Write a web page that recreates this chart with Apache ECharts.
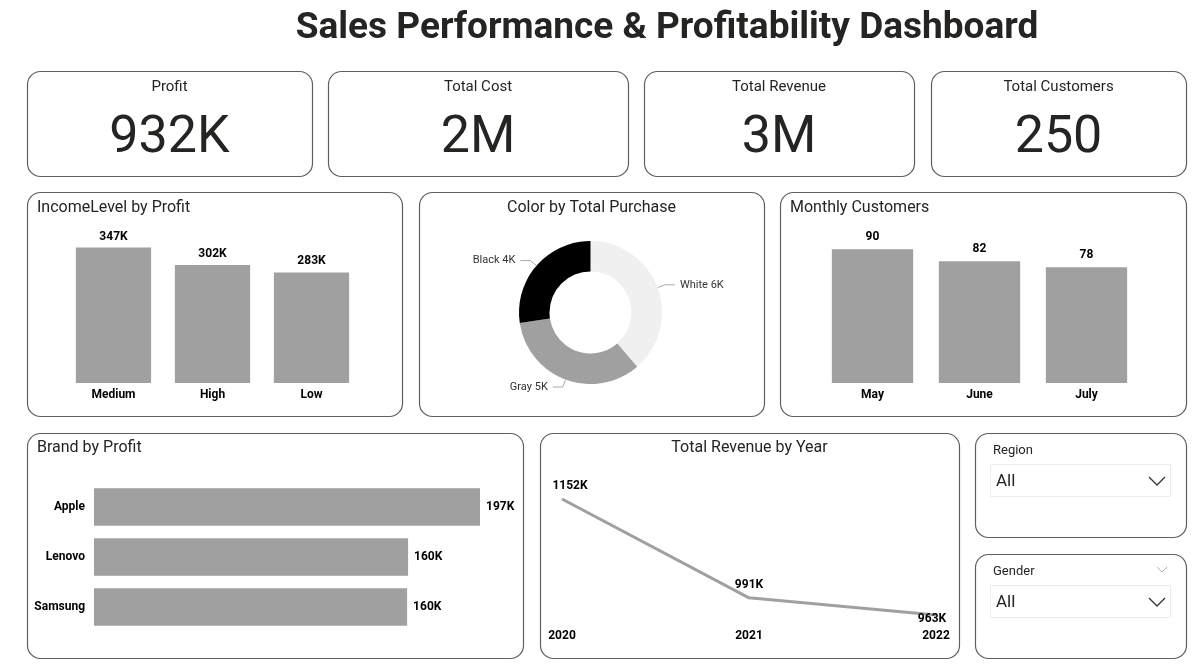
<!DOCTYPE html>
<html>
<head>
<meta charset="utf-8">
<title>Sales Performance & Profitability Dashboard</title>
<script src="https://cdn.jsdelivr.net/npm/echarts@6/dist/echarts.min.js"></script>
<style>
    html, body { margin: 0; padding: 0; background: #fff; }
    #main { width: 1199px; height: 666px; }
</style>
</head>
<body>
<div id="main"></div>
<script>
/*************************** data ***************************/
var kpiNames = ['Profit', 'Total Cost', 'Total Revenue', 'Total Customers'];
var kpiValues = ['932K', '2M', '3M', '250'];

var incomeLevels = ['Medium', 'High', 'Low'];
var incomeProfit = [347, 302, 283];          // K

var colorNames = ['White', 'Gray', 'Black'];
var colorPurchase = [5.8, 5.1, 4.1];         // K

var months = ['May', 'June', 'July'];
var monthlyCustomers = [90, 82, 78];

var brands = ['Apple', 'Lenovo', 'Samsung'];
var brandProfit = [197, 160.3, 159.8];       // K

var years = ['2020', '2021', '2022'];
var yearRevenue = [1152, 991, 963];          // K

var slicerNames = ['Region', 'Gender'];

/*************************** main ***************************/
function main() {
    var myChart = echarts.init(document.getElementById('main'));

    var FONT = 'Roboto, "Noto Sans", sans-serif';
    var BAR = '#a0a0a0';
    var BORDER = '#5f5f5f';

    // panel frames: x, y, w, h
    var kpiBoxes = [[27, 71, 285, 105], [328, 71, 300, 105], [644, 71, 270, 105], [931, 71, 255, 105]];
    var panels = [
        [27, 192, 375, 224], [419, 192, 345, 224], [780, 192, 406, 224],
        [27, 433, 496, 225], [540, 433, 419, 225],
        [975, 433, 211, 104], [975, 554, 211, 104]
    ];

    var graphics = [];

    function text(str, x, y, size, weight, align, color) {
        graphics.push({
            type: 'text',
            z: 10,
            style: {
                text: str, x: x, y: y,
                font: (weight || 'normal') + ' ' + size + 'px ' + FONT,
                fill: color || '#252423',
                textAlign: align || 'left', align: align || 'left',
                textVerticalAlign: 'middle', verticalAlign: 'middle'
            }
        });
    }

    function frame(b) {
        graphics.push({
            type: 'rect',
            z: 0,
            shape: { x: b[0] + 0.5, y: b[1] + 0.5, width: b[2], height: b[3], r: 13 },
            style: { fill: 'none', stroke: BORDER, lineWidth: 1.2 }
        });
    }

    kpiBoxes.forEach(frame);
    panels.forEach(frame);

    // title
    text('Sales Performance & Profitability Dashboard', 667, 29, 37, 'bold', 'center', '#252423');

    // kpi cards
    kpiBoxes.forEach(function (b, i) {
        var cx = b[0] + b[2] / 2;
        text(kpiNames[i], cx, 87, 15, 'normal', 'center');
        text(kpiValues[i], cx, 139, 52, 'normal', 'center', '#252423');
    });

    // panel titles
    text('IncomeLevel by Profit', 37, 208, 16);
    text('Color by Total Purchase', 591.5, 208, 16, 'normal', 'center');
    text('Monthly Customers', 790, 208, 16);
    text('Brand by Profit', 37, 448, 16);
    text('Total Revenue by Year', 749.5, 448, 16, 'normal', 'center');

    // slicers
    slicerNames.forEach(function (name, i) {
        var y0 = 433 + i * 121;
        text(name, 993, y0 + 18, 13, 'normal', 'left', '#252423');
        graphics.push({
            type: 'rect', z: 2,
            shape: { x: 990.5, y: y0 + 31.5, width: 180, height: 32 },
            style: { fill: 'none', stroke: '#ececec', lineWidth: 1 }
        });
        text('All', 996, y0 + 49, 17, 'normal', 'left', '#252423');
        graphics.push({
            type: 'polyline', z: 10,
            shape: { points: [[1149, y0 + 44], [1157, y0 + 52], [1165, y0 + 44]] },
            style: { stroke: '#333', lineWidth: 1.3, fill: null }
        });
    });
    graphics.push({
        type: 'polyline', z: 10,
        shape: { points: [[1157, 567], [1162, 572], [1167, 567]] },
        style: { stroke: '#b0b0b0', lineWidth: 1, fill: null }
    });

    var boldLabel = { color: '#000', fontFamily: FONT, fontWeight: 'bold', fontSize: 12 };

    function catAxis(idx, data, extra) {
        var a = {
            type: 'category', gridIndex: idx, data: data,
            axisLine: { show: false }, axisTick: { show: false }, splitLine: { show: false },
            axisLabel: Object.assign({ margin: 6 }, boldLabel)
        };
        return Object.assign(a, extra || {});
    }

    function valAxis(idx, extra) {
        var a = {
            type: 'value', gridIndex: idx, min: 0, max: 'dataMax',
            axisLine: { show: false }, axisTick: { show: false },
            axisLabel: { show: false }, splitLine: { show: false }
        };
        return Object.assign(a, extra || {});
    }

    var option = {
        backgroundColor: '#fff',
        animation: false,
        graphic: { elements: graphics },
        grid: [
            { left: 64, top: 247.5, width: 297, height: 135.5 },     // income
            { left: 819, top: 249.3, width: 321, height: 133.7 },    // monthly
            { left: 94, top: 482, width: 386, height: 150 },         // brand
            { left: 562, top: 499, width: 374, height: 116 }         // revenue
        ],
        xAxis: [
            catAxis(0, incomeLevels),
            catAxis(1, months),
            valAxis(2),
            catAxis(3, years, { boundaryGap: false, axisLabel: Object.assign({ margin: 15 }, boldLabel) })
        ],
        yAxis: [
            valAxis(0),
            valAxis(1),
            catAxis(2, brands, { inverse: true, axisLabel: Object.assign({ margin: 9 }, boldLabel) }),
            valAxis(3, { min: 'dataMin', max: 'dataMax', scale: true })
        ],
        series: [
            {
                name: 'IncomeLevel by Profit', type: 'bar',
                xAxisIndex: 0, yAxisIndex: 0,
                data: incomeProfit, barCategoryGap: '24%',
                itemStyle: { color: BAR },
                label: Object.assign({ show: true, position: 'top', distance: 5, formatter: '{c}K' }, boldLabel)
            },
            {
                name: 'Monthly Customers', type: 'bar',
                xAxisIndex: 1, yAxisIndex: 1,
                data: monthlyCustomers, barCategoryGap: '24%',
                itemStyle: { color: BAR },
                label: Object.assign({ show: true, position: 'top', distance: 6 }, boldLabel)
            },
            {
                name: 'Brand by Profit', type: 'bar',
                xAxisIndex: 2, yAxisIndex: 2,
                data: brandProfit, barCategoryGap: '25%',
                itemStyle: { color: BAR },
                label: Object.assign({
                    show: true, position: 'right', distance: 6,
                    formatter: function (p) { return Math.round(p.value) + 'K'; }
                }, boldLabel)
            },
            {
                name: 'Total Revenue by Year', type: 'line',
                xAxisIndex: 3, yAxisIndex: 3,
                data: yearRevenue.map(function (v, i) {
                    var d = { value: v };
                    if (i === 0) d.label = { offset: [8, 0] };
                    if (i === yearRevenue.length - 1) d.label = { position: 'bottom', distance: -2, offset: [-4, 0] };
                    return d;
                }),
                showSymbol: true, symbol: 'circle', symbolSize: 0.1,
                lineStyle: { color: BAR, width: 3 },
                itemStyle: { color: BAR },
                label: Object.assign({ show: true, position: 'top', distance: 7, formatter: '{c}K' }, boldLabel)
            },
            {
                name: 'Color by Total Purchase', type: 'pie',
                center: [590.5, 312.5], radius: [41, 71.5],
                startAngle: 90, clockwise: true,
                data: colorNames.map(function (n, i) { return { name: n, value: colorPurchase[i] }; }),
                color: ['#f0f0f0', '#a0a0a0', '#000000'],
                label: {
                    show: true, color: '#333', fontFamily: FONT, fontSize: 11,
                    formatter: function (p) { return p.name + ' ' + Math.round(p.value) + 'K'; }
                },
                labelLine: { show: true, length: 8, length2: 10, lineStyle: { color: '#aaa' } },
                emphasis: { disabled: true }
            }
        ]
    };

    myChart.setOption(option);
}

main();
</script>
</body>
</html>
